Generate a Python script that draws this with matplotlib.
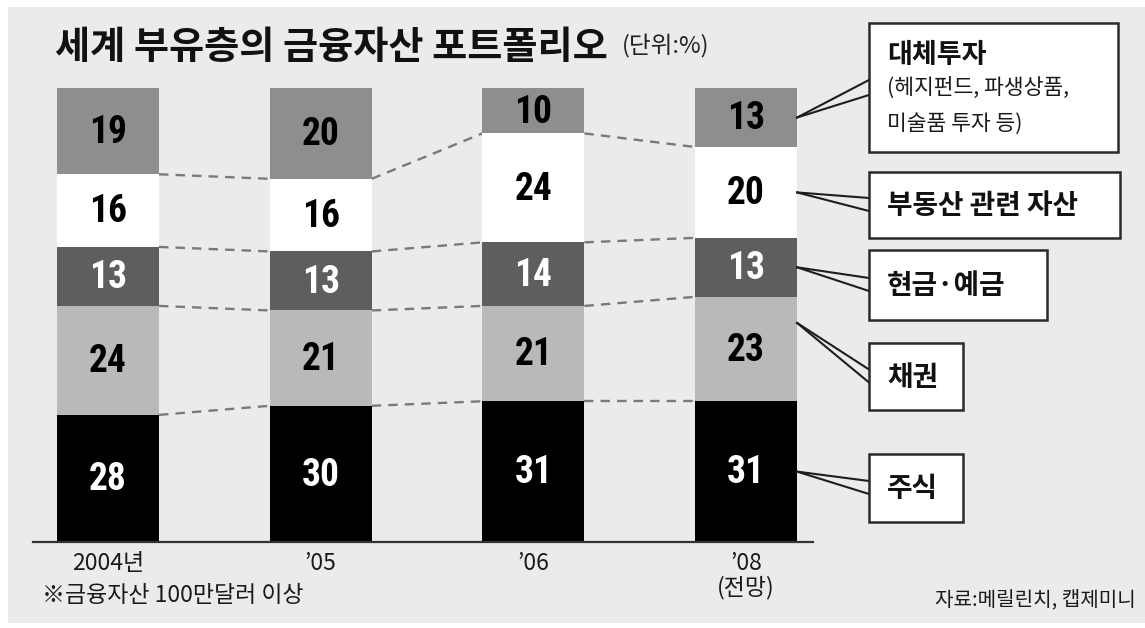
import matplotlib
matplotlib.use("Agg")
import matplotlib.pyplot as plt
from matplotlib import font_manager as fm
from matplotlib.patches import Rectangle
from matplotlib.lines import Line2D
import numpy as np

plt.rcParams['font.family'] = ['Noto Sans CJK KR', 'DejaVu Sans']

# ---- data ----
years = ['2004년', '’05', '’06', '’08\n(전망)']
categories = ['주식', '채권', '현금·예금', '부동산 관련 자산', '대체투자']
stocks = [28, 30, 31, 31]
bonds = [24, 21, 21, 23]
cash = [13, 13, 14, 13]
realestate = [16, 16, 24, 20]
alternative = [19, 20, 10, 13]
series = [stocks, bonds, cash, realestate, alternative]

colors = ['#000000', '#b9b9b9', '#5e5e5e', '#ffffff', '#8e8e8e']
text_colors = ['white', 'black', 'white', 'black', 'black']

# pick a narrow bold font for the numbers if one is installed
bold_narrow = {}
for f in fm.fontManager.ttflist:
    if ('Narrow' in f.name or 'Condensed' in f.name):
        w = f.weight if isinstance(f.weight, int) else 400
        if w >= 500:
            bold_narrow[f.name] = True
prefs = ['Roboto Condensed', 'Liberation Sans Narrow', 'Archivo Narrow',
         'Asap Condensed', 'Barlow Condensed', 'Open Sans Condensed',
         'Noto Sans Condensed']
num_family = [p for p in prefs if p in bold_narrow]
if not num_family:
    num_family = sorted(bold_narrow)[:1]
num_size = 27 if num_family else 24
num_family = num_family[:1] + ['Roboto', 'DejaVu Sans']

W, H = 1145, 628
fig = plt.figure(figsize=(W / 100, H / 100), dpi=100)
fig.patch.set_facecolor('white')

def fx(x):
    return x / W

def fy(y):
    return 1 - y / H

# gray panel
fig.add_artist(Rectangle((fx(8), fy(623)), fx(1145 - 8), (623 - 7) / H,
                         transform=fig.transFigure, facecolor='#ebebeb',
                         edgecolor='none', zorder=0))

ax_left, ax_right, ax_bottom, ax_top = 33, 813, 542, 88
ax = fig.add_axes([fx(ax_left), fy(ax_bottom), (ax_right - ax_left) / W,
                   (ax_bottom - ax_top) / H])
ax.patch.set_alpha(0)
spacing = 212.7
ax.set_xlim(-(108 - ax_left) / spacing, (ax_right - 108) / spacing)
ax.set_ylim(0, 100)
bw = 102 / spacing

xs = np.arange(len(years))
bottoms = np.zeros(len(years))
cums = []
for vals, c, tc in zip(series, colors, text_colors):
    vals = np.array(vals, dtype=float)
    ax.bar(xs, vals, bw, bottom=bottoms, color=c, edgecolor='none', zorder=2)
    for xi, v, b in zip(xs, vals, bottoms):
        ax.text(xi, b + v / 2 - 0.3, f'{int(v)}', ha='center', va='center',
                color=tc, fontsize=num_size, fontweight='semibold',
                family=num_family, zorder=3)
    bottoms = bottoms + vals
    cums.append(bottoms.copy())

for cum in cums[:-1]:
    for i in range(len(xs) - 1):
        ax.plot([xs[i] + bw / 2, xs[i + 1] - bw / 2], [cum[i], cum[i + 1]],
                ls=(0, (4, 3)), color='#7a7a7a', lw=1.7, zorder=1)

for s in ['top', 'right', 'left']:
    ax.spines[s].set_visible(False)
ax.spines['bottom'].set_color('#333333')
ax.spines['bottom'].set_linewidth(1.6)
ax.set_yticks([])
ax.set_xticks(xs)
ax.set_xticklabels(years, fontsize=16.5, color='#1a1a1a', linespacing=1.05,
                   va='top')
ax.tick_params(axis='x', length=0, pad=7)

fig.text(fx(55), fy(48), '세계 부유층의 금융자산 포트폴리오', fontsize=27.5,
         fontweight='bold', color='#111111', ha='left', va='center')
fig.text(fx(622), fy(46), '(단위:%)', fontsize=17, color='#222222',
         ha='left', va='center')

fig.text(fx(42), fy(596), '※금융자산 100만달러 이상', fontsize=16.5,
         color='#1a1a1a', ha='left', va='center')
fig.text(fx(1136), fy(600), '자료:메릴린치, 캡제미니', fontsize=14.5,
         color='#1a1a1a', ha='right', va='center')

boxes = [
    (23, 152, 1118),
    (172, 238, 1120),
    (250, 320, 1047),
    (343, 410, 963),
    (454, 522, 963),
]
box_left = 869
label_order = [4, 3, 2, 1, 0]
anchor_frac = [0.5, 0.75, 0.5, 0.5, 0.5]

to_fig = fig.transFigure.inverted()
last = len(xs) - 1
for k, (top, bot, right) in enumerate(boxes):
    idx = label_order[k]
    fig.add_artist(Rectangle((fx(box_left), fy(bot)), (right - box_left) / W,
                             (bot - top) / H, transform=fig.transFigure,
                             facecolor='white', edgecolor='#2a2a2a', lw=1.8,
                             zorder=5))
    cy = (top + bot) / 2
    if idx == 4:
        fig.text(fx(887), fy(55), categories[idx], fontsize=19.5,
                 fontweight='bold', color='#111111', ha='left', va='center',
                 zorder=6)
        fig.text(fx(887), fy(88), '(헤지펀드, 파생상품,', fontsize=15.5,
                 color='#1a1a1a', ha='left', va='center', zorder=6)
        fig.text(fx(887), fy(124), '미술품 투자 등)', fontsize=15.5,
                 color='#1a1a1a', ha='left', va='center', zorder=6)
        e1, e2 = 80, 95
    else:
        fig.text(fx(887), fy(cy + 1), categories[idx], fontsize=20,
                 fontweight='bold', color='#111111', ha='left', va='center',
                 zorder=6)
        e1, e2 = cy - 7, cy + 6
    seg_bottom = cums[idx][last] - series[idx][last]
    ay = seg_bottom + series[idx][last] * anchor_frac[idx]
    start = to_fig.transform(ax.transData.transform((last + bw / 2, ay)))
    for e in (e1, e2):
        fig.add_artist(Line2D([start[0], fx(box_left)], [start[1], fy(e)],
                              transform=fig.transFigure, color='#1e1e1e',
                              lw=1.5, zorder=4))

fig.savefig('out.png', dpi=100, facecolor='white')
